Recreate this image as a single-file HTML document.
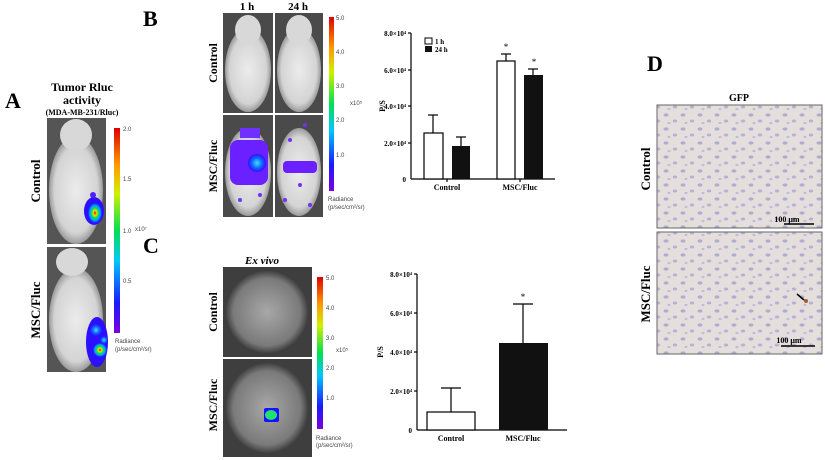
<!DOCTYPE html>
<html><head><meta charset="utf-8"><style>
html,body{margin:0;padding:0;background:#fff;}
svg{display:block;font-family:"Liberation Serif",serif;}
</style></head><body>
<svg width="825" height="460" viewBox="0 0 825 460" xmlns="http://www.w3.org/2000/svg">
<defs>
<linearGradient id="cb" x1="0" y1="1" x2="0" y2="0">
<stop offset="0" stop-color="#7a00e0"/><stop offset="0.15" stop-color="#1a1aff"/><stop offset="0.35" stop-color="#00c8ff"/><stop offset="0.5" stop-color="#00e050"/><stop offset="0.68" stop-color="#d0f000"/><stop offset="0.82" stop-color="#ff9a00"/><stop offset="1" stop-color="#e00000"/>
</linearGradient>
<radialGradient id="hot"><stop offset="0" stop-color="#e00000"/><stop offset="0.25" stop-color="#f0e000"/><stop offset="0.5" stop-color="#00e060"/><stop offset="0.75" stop-color="#00a0ff"/><stop offset="1" stop-color="#2a10ff"/></radialGradient>
<radialGradient id="cyan"><stop offset="0" stop-color="#40e0ff"/><stop offset="0.6" stop-color="#1060ff"/><stop offset="1" stop-color="#3010ff"/></radialGradient>
<radialGradient id="mouse"><stop offset="0" stop-color="#ececec"/><stop offset="0.8" stop-color="#d4d4d4"/><stop offset="1" stop-color="#9a9a9a"/></radialGradient>
<radialGradient id="dish"><stop offset="0" stop-color="#a8a8a8"/><stop offset="0.8" stop-color="#7a7a7a"/><stop offset="1" stop-color="#3a3a3a"/></radialGradient>
<pattern id="cells" width="17" height="14" patternUnits="userSpaceOnUse">
<rect width="17" height="14" fill="#e4dfdc"/>
<ellipse cx="3" cy="3" rx="2.5" ry="1.6" fill="#aeacd0"/>
<ellipse cx="12" cy="9" rx="2.2" ry="1.5" fill="#b6b2d6"/>
<ellipse cx="6" cy="11" rx="1.6" ry="1.1" fill="#c0bcdc"/>
</pattern>
</defs>

<!-- Panel A -->
<text x="5" y="108" font-size="22" font-weight="bold">A</text>
<text x="82" y="91" font-size="12" font-weight="bold" text-anchor="middle">Tumor Rluc</text>
<text x="82" y="104" font-size="12" font-weight="bold" text-anchor="middle">activity</text>
<text x="82" y="115" font-size="8" font-weight="bold" text-anchor="middle">(MDA-MB-231/Rluc)</text>
<rect x="47" y="118" width="59" height="126" fill="#555"/>
<ellipse cx="76" cy="190" rx="27" ry="54" fill="url(#mouse)"/>
<ellipse cx="76" cy="135" rx="16" ry="16" fill="#d8d8d8"/>
<ellipse cx="94" cy="211" rx="10" ry="14" fill="#2a10ff"/>
<ellipse cx="95" cy="213" rx="7" ry="10" fill="url(#hot)"/>
<ellipse cx="93" cy="195" rx="3" ry="3" fill="#5020ff"/>
<rect x="47" y="247" width="59" height="125" fill="#555"/>
<ellipse cx="76" cy="320" rx="27" ry="52" fill="url(#mouse)"/>
<ellipse cx="72" cy="262" rx="16" ry="14" fill="#d8d8d8"/>
<ellipse cx="97" cy="342" rx="11" ry="25" fill="#2a10ff"/>
<circle cx="96" cy="330" r="6" fill="url(#cyan)"/>
<circle cx="100" cy="350" r="7" fill="url(#hot)"/>
<circle cx="104" cy="340" r="4" fill="url(#cyan)"/>
<rect x="114" y="128" width="6" height="205" fill="url(#cb)"/>
<g font-size="6" font-family="Liberation Sans,sans-serif" fill="#444">
<text x="123" y="131">2.0</text><text x="123" y="181">1.5</text><text x="123" y="233">1.0</text><text x="135" y="231">x10⁷</text><text x="123" y="283">0.5</text>
<text x="115" y="343">Radiance</text><text x="115" y="351">(p/sec/cm²/sr)</text></g>
<text transform="translate(40,181) rotate(-90)" font-size="13" font-weight="bold" text-anchor="middle">Control</text>
<text transform="translate(40,310) rotate(-90)" font-size="13" font-weight="bold" text-anchor="middle">MSC/Fluc</text>

<!-- Panel B -->
<text x="143" y="26" font-size="22" font-weight="bold">B</text>
<text x="247" y="10" font-size="11" font-weight="bold" text-anchor="middle">1 h</text>
<text x="298" y="10" font-size="11" font-weight="bold" text-anchor="middle">24 h</text>
<rect x="223" y="13" width="50" height="100" fill="#4a4a4a"/>
<rect x="275" y="13" width="48" height="100" fill="#4a4a4a"/>
<rect x="223" y="115" width="50" height="102" fill="#4a4a4a"/>
<rect x="275" y="115" width="48" height="102" fill="#4a4a4a"/>
<ellipse cx="248" cy="70" rx="23" ry="42" fill="url(#mouse)"/><ellipse cx="248" cy="30" rx="13" ry="15" fill="#d8d8d8"/>
<ellipse cx="299" cy="70" rx="22" ry="42" fill="url(#mouse)"/><ellipse cx="299" cy="30" rx="13" ry="15" fill="#d8d8d8"/>
<ellipse cx="248" cy="172" rx="23" ry="44" fill="url(#mouse)"/>
<ellipse cx="299" cy="172" rx="22" ry="44" fill="url(#mouse)"/>
<rect x="230" y="140" width="38" height="45" rx="8" fill="#6a20ff"/>
<circle cx="257" cy="163" r="9" fill="url(#cyan)"/>
<rect x="240" y="128" width="20" height="10" fill="#7030ff"/>
<rect x="283" y="161" width="34" height="12" rx="4" fill="#6a20ff"/>
<g fill="#7030ff"><circle cx="285" cy="200" r="2"/><circle cx="300" cy="185" r="2"/><circle cx="310" cy="205" r="2"/><circle cx="290" cy="140" r="2"/><circle cx="240" cy="200" r="2"/><circle cx="260" cy="195" r="2"/><circle cx="305" cy="125" r="2"/></g>
<rect x="329" y="17" width="5" height="174" fill="url(#cb)"/>
<g font-size="6" font-family="Liberation Sans,sans-serif" fill="#444">
<text x="336" y="20">5.0</text><text x="336" y="54">4.0</text><text x="336" y="88">3.0</text><text x="350" y="105">x10⁵</text><text x="336" y="122">2.0</text><text x="336" y="157">1.0</text>
<text x="328" y="201">Radiance</text><text x="328" y="209">(p/sec/cm²/sr)</text></g>
<text transform="translate(217,63) rotate(-90)" font-size="12" font-weight="bold" text-anchor="middle">Control</text>
<text transform="translate(217,166) rotate(-90)" font-size="12" font-weight="bold" text-anchor="middle">MSC/Fluc</text>

<!-- Chart B -->
<g stroke="#000" stroke-width="1.2" fill="none">
<line x1="411" y1="33" x2="411" y2="179"/><line x1="411" y1="179" x2="555" y2="179"/>
<line x1="408" y1="33" x2="411" y2="33"/><line x1="408" y1="70" x2="411" y2="70"/><line x1="408" y1="106" x2="411" y2="106"/><line x1="408" y1="143" x2="411" y2="143"/>
<line x1="447" y1="179" x2="447" y2="182"/><line x1="520" y1="179" x2="520" y2="182"/>
<line x1="433" y1="133" x2="433" y2="115"/><line x1="428" y1="115" x2="438" y2="115"/>
<line x1="461" y1="146" x2="461" y2="137"/><line x1="456" y1="137" x2="466" y2="137"/>
<line x1="506" y1="61" x2="506" y2="54"/><line x1="501" y1="54" x2="511" y2="54"/>
<line x1="533" y1="75" x2="533" y2="69"/><line x1="528" y1="69" x2="538" y2="69"/>
</g>
<rect x="424" y="133" width="19" height="46" fill="#fff" stroke="#000" stroke-width="1.2"/>
<rect x="452" y="146" width="18" height="33" fill="#111"/>
<rect x="497" y="61" width="18" height="118" fill="#fff" stroke="#000" stroke-width="1.2"/>
<rect x="524" y="75" width="19" height="104" fill="#111"/>
<g font-size="7" font-weight="bold" text-anchor="end">
<text x="406" y="36">8.0×10⁴</text><text x="406" y="73">6.0×10⁴</text><text x="406" y="109">4.0×10⁴</text><text x="406" y="146">2.0×10⁴</text><text x="406" y="182">0</text></g>
<text x="506" y="50" font-size="9" text-anchor="middle">*</text><text x="534" y="65" font-size="9" text-anchor="middle">*</text>
<text transform="translate(385,106) rotate(-90)" font-size="8" font-weight="bold" text-anchor="middle">P/S</text>
<text x="447" y="190" font-size="8" font-weight="bold" text-anchor="middle">Control</text>
<text x="520" y="190" font-size="8" font-weight="bold" text-anchor="middle">MSC/Fluc</text>
<rect x="425" y="38" width="7" height="6" fill="#fff" stroke="#000"/><rect x="425" y="46" width="7" height="6" fill="#111"/>
<text x="435" y="44" font-size="7" font-weight="bold">1 h</text><text x="435" y="52" font-size="7" font-weight="bold">24 h</text>

<!-- Panel C -->
<text x="143" y="253" font-size="22" font-weight="bold">C</text>
<text x="262" y="264" font-size="11" font-weight="bold" font-style="italic" text-anchor="middle">Ex vivo</text>
<rect x="223" y="267" width="89" height="90" fill="#3e3e3e"/>
<ellipse cx="267" cy="312" rx="42" ry="42" fill="url(#dish)"/>
<rect x="223" y="359" width="89" height="98" fill="#3e3e3e"/>
<ellipse cx="267" cy="408" rx="42" ry="46" fill="url(#dish)"/>
<rect x="264" y="408" width="15" height="14" rx="2" fill="#1a10ff"/>
<ellipse cx="271" cy="415" rx="6" ry="5" fill="#20e070"/>
<rect x="317" y="277" width="6" height="152" fill="url(#cb)"/>
<g font-size="6" font-family="Liberation Sans,sans-serif" fill="#444">
<text x="326" y="280">5.0</text><text x="326" y="310">4.0</text><text x="326" y="340">3.0</text><text x="336" y="352">x10⁵</text><text x="326" y="370">2.0</text><text x="326" y="400">1.0</text>
<text x="316" y="440">Radiance</text><text x="316" y="447">(p/sec/cm²/sr)</text></g>
<text transform="translate(217,312) rotate(-90)" font-size="12" font-weight="bold" text-anchor="middle">Control</text>
<text transform="translate(217,405) rotate(-90)" font-size="12" font-weight="bold" text-anchor="middle">MSC/Fluc</text>

<!-- Chart C -->
<g stroke="#000" stroke-width="1.2" fill="none">
<line x1="417" y1="274" x2="417" y2="430"/><line x1="417" y1="430" x2="567" y2="430"/>
<line x1="414" y1="274" x2="417" y2="274"/><line x1="414" y1="313" x2="417" y2="313"/><line x1="414" y1="352" x2="417" y2="352"/><line x1="414" y1="391" x2="417" y2="391"/>
<line x1="451" y1="412" x2="451" y2="388"/><line x1="441" y1="388" x2="461" y2="388"/>
<line x1="523" y1="343" x2="523" y2="304"/><line x1="513" y1="304" x2="533" y2="304"/>
</g>
<rect x="427" y="412" width="48" height="18" fill="#fff" stroke="#000" stroke-width="1.2"/>
<rect x="499" y="343" width="49" height="87" fill="#111"/>
<g font-size="7" font-weight="bold" text-anchor="end">
<text x="412" y="277">8.0×10⁴</text><text x="412" y="316">6.0×10⁴</text><text x="412" y="355">4.0×10⁴</text><text x="412" y="394">2.0×10⁴</text><text x="412" y="433">0</text></g>
<text x="523" y="300" font-size="9" text-anchor="middle">*</text>
<text transform="translate(383,352) rotate(-90)" font-size="8" font-weight="bold" text-anchor="middle">P/S</text>
<text x="451" y="441" font-size="8" font-weight="bold" text-anchor="middle">Control</text>
<text x="523" y="441" font-size="8" font-weight="bold" text-anchor="middle">MSC/Fluc</text>

<!-- Panel D -->
<text x="647" y="71" font-size="22" font-weight="bold">D</text>
<text x="739" y="101" font-size="10" font-weight="bold" text-anchor="middle">GFP</text>
<rect x="657" y="105" width="165" height="123" fill="url(#cells)" stroke="#666"/>
<rect x="657" y="232" width="165" height="122" fill="url(#cells)" stroke="#666"/>
<text x="787" y="222" font-size="8" font-weight="bold" text-anchor="middle">100 μm</text>
<line x1="784" y1="224" x2="814" y2="224" stroke="#000" stroke-width="1.5"/>
<text x="789" y="343" font-size="8" font-weight="bold" text-anchor="middle">100 μm</text>
<line x1="781" y1="346" x2="815" y2="346" stroke="#000" stroke-width="1.5"/>
<line x1="797" y1="294" x2="804" y2="300" stroke="#000" stroke-width="1.5"/>
<circle cx="806" cy="301" r="2" fill="#a06030"/>
<text transform="translate(650,169) rotate(-90)" font-size="13" font-weight="bold" text-anchor="middle">Control</text>
<text transform="translate(650,294) rotate(-90)" font-size="13" font-weight="bold" text-anchor="middle">MSC/Fluc</text>
</svg>
</body></html>
